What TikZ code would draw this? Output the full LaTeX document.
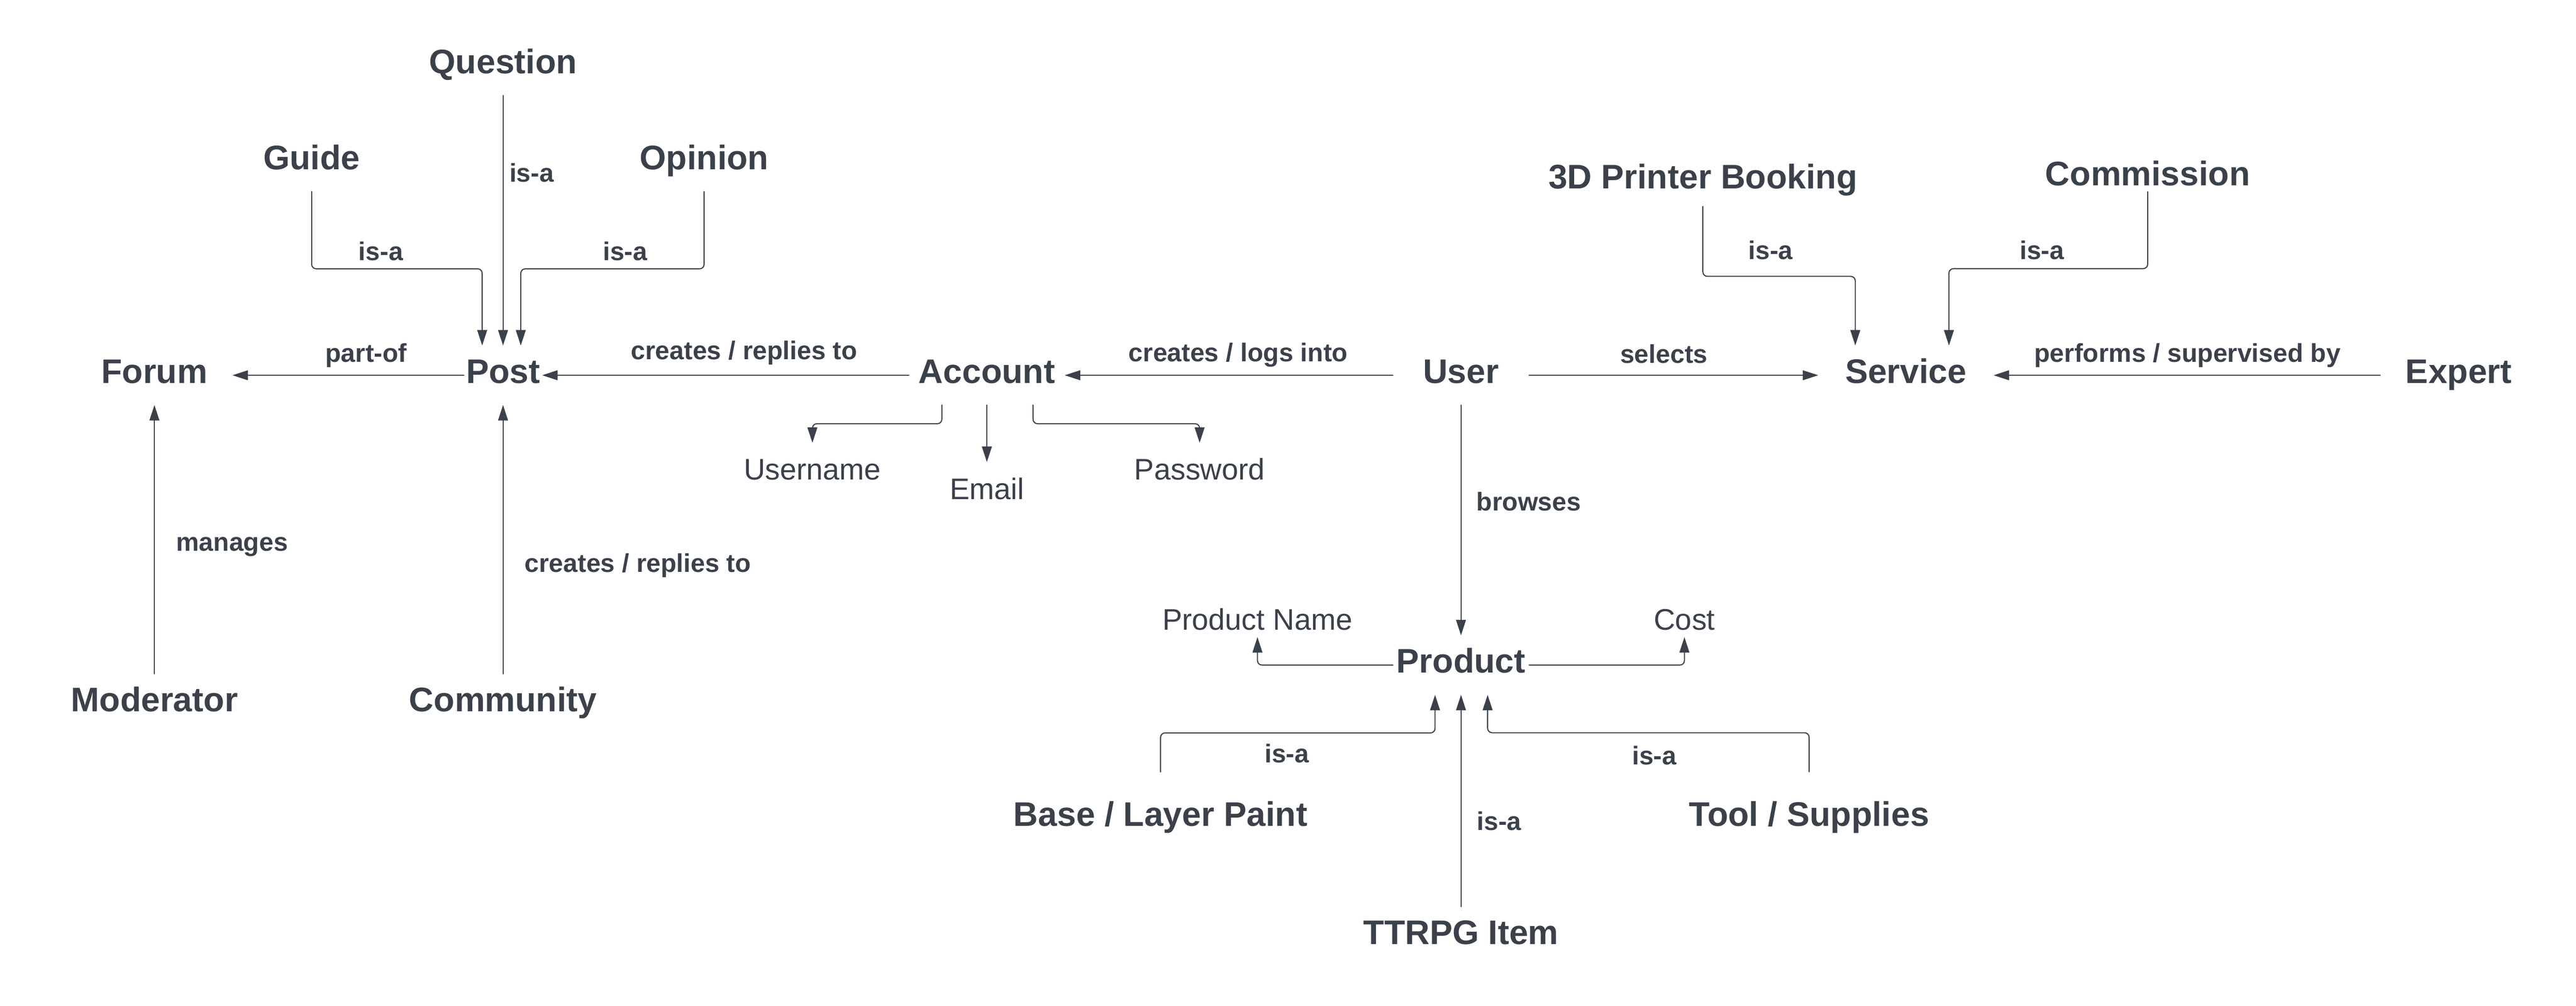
\documentclass[tikz,border=0pt]{standalone}
\usepackage{fontspec}
\setmainfont{Liberation Sans}
\usetikzlibrary{arrows.meta,calc,positioning}
\definecolor{ink}{HTML}{3A414A}

\begin{document}
\begin{tikzpicture}[x=0.03183cm,y=-0.03183cm,line join=round,line cap=round,
  ent/.style={font=\fontsize{18.8}{22}\selectfont\bfseries,text=ink,inner sep=0pt,text height=20.5pt,text depth=11.9pt},
  att/.style={font=\fontsize{16.4}{20}\selectfont,text=ink,inner sep=0pt,text height=20.3pt,text depth=3.7pt},
  lbl/.style={font=\fontsize{14.2}{17}\selectfont\bfseries,text=ink,inner sep=0pt},
  link/.style={draw=ink,line width=0.6pt,rounded corners=2.5pt,-{Triangle[length=3mm,width=1.9mm]}}]
\useasboundingbox (0,0) rectangle (1568,612);
% entities
\node[ent,minimum width=3.011cm] (forum) at (94,228.4) {Forum};
\node[ent,minimum width=1.502cm] (post) at (306.2,228.4) {Post};
\node[ent,minimum width=3.005cm] (account) at (600.7,228.4) {Account};
\node[ent,minimum width=2.623cm] (user) at (889.3,228.4) {User};
\node[ent,minimum width=3.384cm] (service) at (1160.1,228.4) {Service};
\node[ent,minimum width=3.030cm] (expert) at (1496.6,228.4) {Expert};
\node[ent,minimum width=2.623cm] (product) at (889.3,404.8) {Product};
\foreach \n/\x/\y/\t in {question/306.2/40/Question,guide/189.7/98.5/Guide,opinion/428.6/98.5/Opinion,
  printer/1036.5/110.2/3D Printer Booking,commission/1307.3/108.3/Commission,moderator/94/428.3/Moderator,
  community/306.2/428.3/Community,ttrpg/889.3/570/TTRPG Item}{\node[ent] (\n) at (\x,\y) {\t};}
\node[ent] (paint) at (706.4,498.2) {Base / Layer Paint};
\node[ent] (tools) at (1101.2,498.1) {Tool / Supplies};
% attributes
\foreach \n/\x/\y/\t in {username/494.5/283/Username,email/600.7/294.7/Email,password/730.2/283/Password,
  pname/765.4/374.3/Product Name,cost/1025.3/374.3/Cost}{\node[att] (\n) at (\x,\y) {\t};}
% connectors
\draw[link] (post.west) -- (forum.east);
\draw[link] (account.west) -- (post.east);
\draw[link] (user.west) -- (account.east);
\draw[link] (user.east) -- (service.west);
\draw[link] (expert.west) -- (service.east);
\draw[link] (question.south) -- (post.north);
\draw[link] (guide.south) -- ++(0,47) -| ($(post.north)+(-12.7,0)$);
\draw[link] (opinion.south) -- ++(0,47) -| ($(post.north)+(10.8,0)$);
\draw[link] (moderator.north) -- (forum.south);
\draw[link] (community.north) -- (post.south);
\draw[link] ($(account.south)+(-27.4,0)$) -- ++(0,11.4) -| (username.north);
\draw[link] (account.south) -- (email.north);
\draw[link] ($(account.south)+(28.1,0)$) -- ++(0,11.4) -| (password.north);
\draw[link] (user.south) -- (product.north);
\draw[link] (product.west) -| (pname.south);
\draw[link] (product.east) -| (cost.south);
\draw[link] ($(paint.north)+(0,-10.2)$) -- ++(0,-23.8) -| ($(product.south)+(-15.8,0)$);
\draw[link] ($(tools.north)+(0,-10.2)$) -- ++(0,-23.8) -| ($(product.south)+(16.2,0)$);
\draw[link] (ttrpg.north) -- (product.south);
\draw[link] ($(printer.south)+(0,-2.7)$) -- ++(0,42.6) -| ($(service.north)+(-30.8,0)$);
\draw[link] ($(commission.south)+(0,-9.7)$) -- ++(0,46.8) -| ($(service.north)+(26.2,0)$);
% labels
\node[lbl] (partof) at (222.9,216.3) {part-of};
\node[lbl] (creates) at (453,214.7) {creates / replies to};
\node[lbl] (logs) at (753.7,216) {creates / logs into};
\node[lbl] (selects) at (1012.8,215.4) {selects};
\node[lbl] (performs) at (1331.5,216.2) {performs / supervised by};
\node[lbl] (manages) at (141.3,332.8) {manages};
\node[lbl] (replies) at (388.3,344.3) {creates / replies to};
\node[lbl] (browses) at (930.5,305.2) {browses};
\foreach \n/\x/\y in {isq/323.6/105,isg/231.8/153,iso/380.5/153,isb/783.3/458.6,ist/912.5/499.6,
  istool/1007/459.8,isp/1077.8/152.2,isc/1242.9/152.2}{\node[lbl] (\n) at (\x,\y) {is-a};}
\end{tikzpicture}
\end{document}
